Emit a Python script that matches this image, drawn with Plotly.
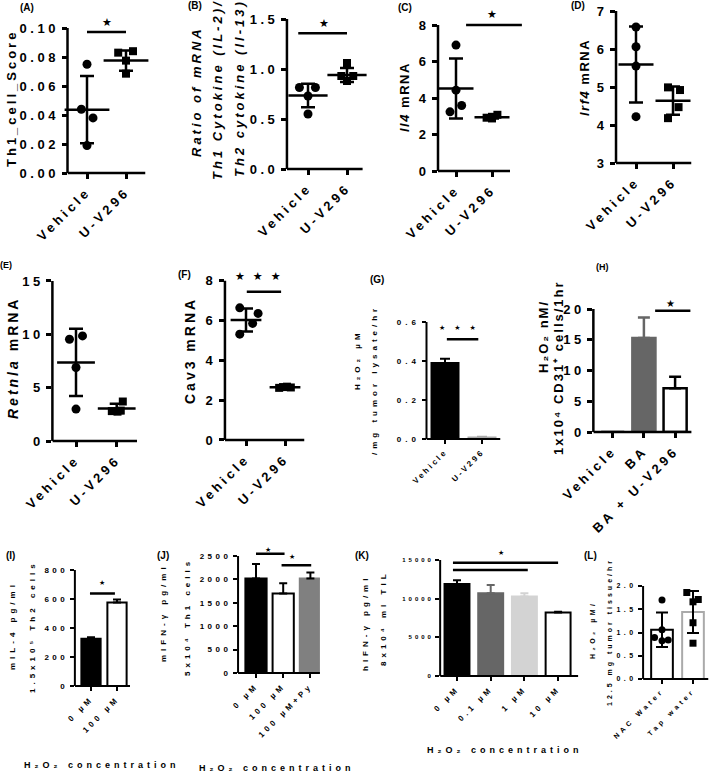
import plotly.graph_objects as go

W, H = 709, 783
FONT = "Liberation Sans"

# ---------------- data ----------------
two_cats = ["Vehicle", "U-V296"]

A_vehicle = [0.075, 0.044, 0.038, 0.019]
A_uv296 = [0.083, 0.084, 0.0775, 0.0685]
A_mean = [0.0437, 0.0775]
A_sd = [0.0232, 0.0069]
A_yticks = [0, 0.02, 0.04, 0.06, 0.08, 0.10]

B_vehicle = [0.815, 0.815, 0.73, 0.55]
B_uv296 = [1.06, 0.93, 0.93, 0.88]
B_mean = [0.735, 0.94]
B_sd = [0.117, 0.07]
B_yticks = [0, 0.5, 1.0, 1.5]

C_vehicle = [6.9, 4.43, 3.24, 3.59]
C_uv296 = [2.92, 2.97, 3.08, 2.88]
C_mean = [4.52, 2.95]
C_sd = [1.65, 0.08]
C_yticks = [0, 2, 4, 6, 8]

D_vehicle = [6.58, 6.06, 5.55, 4.22]
D_uv296 = [4.99, 4.92, 4.47, 4.18]
D_mean = [5.59, 4.64]
D_sd = [1.0, 0.37]
D_yticks = [3, 4, 5, 6, 7]

E_vehicle = [9.54, 9.85, 6.89, 2.99]
E_uv296 = [3.7, 2.8, 2.75, 2.85]
E_mean = [7.36, 3.05]
E_sd = [3.15, 0.43]
E_yticks = [0, 5, 10, 15]

F_vehicle = [6.64, 6.36, 5.86, 5.32]
F_uv296 = [2.62, 2.66, 2.68, 2.64]
F_mean = [6.03, 2.65]
F_sd = [0.58, 0.05]
F_yticks = [0, 2, 4, 6, 8]

G_mean = [0.39, 0.008]
G_sd = [0.022, 0.003]
G_yticks = [0, 0.2, 0.4, 0.6]

H_cats = ["Vehicle", "BA", "BA + U-V296"]
H_mean = [0, 15.3, 7.1]
H_sd = [0, 3.3, 1.9]
H_yticks = [0, 5, 10, 15, 20]

I_cats = ["0 µM", "100 µM"]
I_mean = [325, 575]
I_sd = [12, 22]
I_yticks = [0, 200, 400, 600, 800]

J_cats = ["0 µM", "100 µM", "100 µM+Py"]
J_mean = [2020, 1700, 2020]
J_sd = [310, 220, 125]
J_yticks = [0, 500, 1000, 1500, 2000, 2500]

K_cats = ["0 µM", "0.1 µM", "1 µM", "10 µM"]
K_mean = [11900, 10700, 10300, 8200]
K_sd = [500, 1080, 420, 120]
K_yticks = [0, 5000, 10000, 15000]

L_cats = ["NAC Water", "Tap water"]
L_nac = [1.70, 1.06, 0.89, 0.82, 0.84]
L_tap = [1.86, 1.71, 1.66, 1.21, 0.77]
L_mean = [1.06, 1.44]
L_sd = [0.37, 0.45]
L_yticks = [0, 0.5, 1.0, 1.5, 2.0]

# ---------------- helpers ----------------
def ls(t, sp):
    return f"<span style='letter-spacing:{sp}px'>{t}</span>"

def sfx(i):
    return "" if i == 1 else str(i)

fig = go.Figure()
shapes = []
annotations = []
layout_axes = {}


def setup(i, cats, yticks, fmt, P):
    s = sfx(i)
    c0, sp = P["c0"], P["sp"]
    xr, yr = P["xr"], P["yr"]
    xl = c0 + xr[0] * sp
    xrgt = c0 + xr[1] * sp
    ybot = P["y0"]
    ytop = P["y0"] - (yr[1] - yr[0]) * P["u"]
    tf = dict(family=FONT, size=P["tfs"], color="black", weight=700)
    xtf = dict(family=FONT, size=P.get("xtfs", P["tfs"]), color="black", weight=700)
    layout_axes["xaxis" + s] = dict(
        domain=[xl / W, xrgt / W], range=list(xr), anchor="y" + s,
        showgrid=False, zeroline=False, showline=False, automargin=False,
        tickvals=list(range(len(cats))),
        ticktext=[ls(c, P["xls"]) for c in cats],
        ticks="outside", ticklen=P["tl"], tickwidth=P["lw"], tickcolor="black",
        tickangle=-45, tickfont=xtf, fixedrange=True)
    layout_axes["yaxis" + s] = dict(
        domain=[1 - ybot / H, 1 - ytop / H], range=list(yr), anchor="x" + s,
        showgrid=False, zeroline=False, showline=False, automargin=False,
        tickvals=yticks, ticktext=[ls(format(v, fmt), P["yls"]) for v in yticks],
        ticks="outside", ticklen=P["tl"], tickwidth=P["lw"], tickcolor="black",
        tickfont=tf, fixedrange=True)
    shapes.append(dict(type="line", xref="x" + s + " domain", yref="y" + s,
                       x0=0, x1=0, y0=yr[0], y1=P["ytop"],
                       line=dict(color="black", width=P["lw"])))
    shapes.append(dict(type="line", xref="x" + s, yref="y" + s + " domain",
                       x0=xr[0], x1=P["xend"], y0=0, y1=0,
                       line=dict(color="black", width=P["lw"])))


def dots(i, k, vals, dx, symbol, size=8):
    s = sfx(i)
    fig.add_trace(go.Scatter(
        x=[k + d for d in dx], y=vals, mode="markers",
        marker=dict(symbol=symbol, size=size, color="black"),
        xaxis="x" + s, yaxis="y" + s, hoverinfo="skip", cliponaxis=False))


def meansd(i, means, sds, mw, cap=7, th=2.5):
    s = sfx(i)
    fig.add_trace(go.Scatter(
        x=list(range(len(means))), y=means, mode="markers",
        marker=dict(symbol="line-ew", size=mw, color="black",
                    line=dict(color="black", width=th)),
        error_y=dict(type="data", array=sds, visible=True, thickness=th,
                     width=cap, color="black"),
        xaxis="x" + s, yaxis="y" + s, hoverinfo="skip", cliponaxis=False))


def bars(i, means, sds, fills, outlines, errc, width, lw=2, cap=5, sym=False):
    s = sfx(i)
    for k, (m, e) in enumerate(zip(means, sds)):
        err = dict(type="data", array=[e], visible=e > 0, thickness=lw,
                   width=cap, color=errc[k])
        if not sym:
            err.update(symmetric=False, arrayminus=[0])
        fig.add_trace(go.Bar(
            x=[k], y=[m], width=width,
            marker=dict(color=fills[k], line=dict(color=outlines[k], width=lw)),
            error_y=err, xaxis="x" + s, yaxis="y" + s, hoverinfo="skip"))


def sig(i, x0, x1, y, lw=2.5):
    s = sfx(i)
    shapes.append(dict(type="line", xref="x" + s, yref="y" + s,
                       x0=x0, x1=x1, y0=y, y1=y,
                       line=dict(color="black", width=lw)))


def star(i, x, y, text, size, sp=0):
    s = sfx(i)
    annotations.append(dict(xref="x" + s, yref="y" + s, x=x, y=y,
                            text=ls(text, sp) if sp else text,
                            showarrow=False, xanchor="center", yanchor="middle",
                            font=dict(family="DejaVu Sans", size=size, color="black")))


def txt(xpx, ypx, text, size, angle=0, sp=0, weight=700):
    annotations.append(dict(xref="paper", yref="paper", x=xpx / W, y=1 - ypx / H,
                            text=ls(text, sp) if sp else text, showarrow=False,
                            textangle=angle, xanchor="center", yanchor="middle",
                            font=dict(family=FONT, size=size, color="black",
                                      weight=weight)))

BIG = dict(tfs=13, xls=3.5, yls=3.5, tl=5, lw=2.5)
SMALL = dict(tfs=8, xls=3.5, yls=3.5, tl=4, lw=2)

# ---------------- (A) ----------------
setup(1, two_cats, A_yticks, ".2f",
      dict(BIG, c0=87, sp=39, xr=(-0.5, 1.5), xend=1.5, y0=173, u=1450,
           yr=(0, 0.108), ytop=0.10))
dots(1, 0, A_vehicle, [0, -0.145, 0.154, 0], "circle", 9)
dots(1, 1, A_uv296, [-0.2, 0.18, 0, 0], "square", 8)
meansd(1, A_mean, A_sd, 32)
sig(1, 0, 1, 0.0972)
star(1, 0.5, 0.1039, "★", 11)

# ---------------- (B) ----------------
setup(2, two_cats, B_yticks, ".1f",
      dict(BIG, c0=308, sp=39, xr=(-0.54, 1.5), xend=1.4, y0=169, u=100,
           yr=(0, 1.5), ytop=1.5))
dots(2, 0, B_vehicle, [-0.22, 0.19, 0, 0], "circle", 9)
dots(2, 1, B_uv296, [0, -0.145, 0.16, 0], "square", 8)
meansd(2, B_mean, B_sd, 28)
sig(2, -0.25, 1.0, 1.357)
star(2, 0.4, 1.46, "★", 11)

# ---------------- (C) ----------------
setup(3, two_cats, C_yticks, "d",
      dict(BIG, c0=456, sp=36, xr=(-0.5, 1.9), xend=1.5, y0=171, u=18.25,
           yr=(0, 8.8), ytop=8))
dots(3, 0, C_vehicle, [0, 0, -0.167, 0.157], "circle", 9)
dots(3, 1, C_uv296, [-0.15, 0, 0.15, 0], "square", 8)
meansd(3, C_mean, C_sd, 25)
sig(3, 0.28, 1.83, 8.0)
star(3, 1.0, 8.55, "★", 11)

# ---------------- (D) ----------------
setup(4, two_cats, D_yticks, "d",
      dict(BIG, c0=636, sp=37, xr=(-0.54, 1.5), xend=1.5, y0=163, u=38,
           yr=(3, 7), ytop=7))
dots(4, 0, D_vehicle, [0, 0, 0, 0], "circle", 9)
dots(4, 1, D_uv296, [-0.135, 0.19, 0.15, -0.135], "square", 8)
meansd(4, D_mean, D_sd, 25)

# ---------------- (E) ----------------
setup(5, two_cats, E_yticks, "d",
      dict(BIG, c0=76, sp=40.7, xr=(-0.58, 1.5), xend=1.5, y0=441, u=10.67,
           yr=(0, 15), ytop=15))
dots(5, 0, E_vehicle, [-0.16, 0.16, 0, 0], "circle", 9)
dots(5, 1, E_uv296, [0.15, -0.12, 0.02, 0.1], "square", 8)
meansd(5, E_mean, E_sd, 27)

# ---------------- (F) ----------------
setup(6, two_cats, F_yticks, "d",
      dict(BIG, c0=246, sp=39, xr=(-0.54, 1.5), xend=1.5, y0=440, u=19.9,
           yr=(0, 8.45), ytop=8))
dots(6, 0, F_vehicle, [-0.16, 0.31, 0.17, -0.16], "circle", 9)
dots(6, 1, F_uv296, [-0.15, -0.05, 0.05, 0.15], "square", 8)
meansd(6, F_mean, F_sd, 22)
sig(6, 0.02, 0.9, 7.45)
star(6, 0.42, 8.23, "★★★", 11, 8)

# ---------------- (G) ----------------
setup(7, two_cats, G_yticks, ".1f",
      dict(SMALL, xls=2.5, yls=4, c0=445, sp=37, xr=(-0.5, 1.5), xend=1.5,
           y0=439, u=195, yr=(0, 0.6), ytop=0.6))
bars(7, G_mean, G_sd, ["black", "white"], ["black", "#aaaaaa"],
     ["black", "#aaaaaa"], 0.73)
sig(7, 0.05, 0.9, 0.511)
star(7, 0.45, 0.569, "★★★", 7, 9)

# ---------------- (H) ----------------
setup(8, H_cats, H_yticks, "d",
      dict(BIG, c0=612.7, sp=31.2, xr=(-0.62, 2.53), xend=2.53, y0=432,
           u=6.15, yr=(0, 21.5), ytop=20))
bars(8, H_mean, H_sd, ["black", "#666666", "white"],
     ["black", "#666666", "black"], ["black", "#666666", "black"], 0.74,
     lw=2.5, cap=6)
sig(8, 1.36, 2.49, 19.73)
star(8, 1.84, 20.92, "★", 10)

# ---------------- (I) ----------------
setup(9, I_cats, I_yticks, "d",
      dict(SMALL, c0=91, sp=26, xr=(-0.62, 1.5), xend=1.5, y0=686, u=0.145,
           yr=(0, 800), ytop=800))
bars(9, I_mean, I_sd, ["black", "white"], ["black", "black"],
     ["black", "black"], 0.74, cap=4)
sig(9, -0.04, 0.92, 638)
star(9, 0.41, 707, "★", 7)

# ---------------- (J) ----------------
setup(10, J_cats, J_yticks, "d",
      dict(SMALL, c0=256, sp=27.2, xr=(-0.66, 2.35), xend=2.35, y0=673,
           u=0.0468, yr=(0, 2700), ytop=2500))
bars(10, J_mean, J_sd, ["black", "white", "#808080"],
     ["black", "black", "#808080"], ["black", "black", "black"], 0.78, cap=4)
sig(10, 0, 1.05, 2550)
sig(10, 0.94, 2.03, 2302)
star(10, 0.45, 2635, "★", 7)
star(10, 1.33, 2479, "★", 7)

# ---------------- (K) ----------------
setup(11, K_cats, K_yticks, "d",
      dict(SMALL, tfs=6, xtfs=8, yls=3, c0=457, sp=33.7, xr=(-0.5, 3.6),
           xend=3.6, y0=676, u=0.00773, yr=(0, 16500), ytop=15000))
bars(11, K_mean, K_sd, ["black", "#666666", "#d3d3d3", "white"],
     ["black", "#666666", "#d3d3d3", "black"],
     ["black", "#666666", "#d3d3d3", "black"], 0.74, cap=4)
sig(11, -0.12, 3.0, 14656)
sig(11, -0.12, 2.1, 13705)
star(11, 1.32, 15953, "★", 7)

# ---------------- (L) ----------------
setup(12, L_cats, L_yticks, ".1f",
      dict(SMALL, tfs=7, xtfs=7, c0=662, sp=31, xr=(-0.61, 1.5), xend=1.5,
           y0=679, u=46.5, yr=(0, 2.0), ytop=2.0))
bars(12, L_mean, L_sd, ["white", "white"], ["black", "#aaaaaa"],
     ["black", "black"], 0.7, lw=2, cap=6, sym=True)
dots(12, 0, L_nac, [0, 0, -0.24, 0, 0.2], "circle", 7)
dots(12, 1, L_tap, [-0.2, 0.17, 0, 0, 0], "square", 7)

# ---------------- text ----------------
for lab, x, y, sz in [("(A)", 27, 7, 10), ("(B)", 195, 5, 10), ("(C)", 405, 7, 10),
                      ("(D)", 578, 5, 10), ("(E)", 6, 265, 9), ("(F)", 184, 275, 10),
                      ("(G)", 377, 279, 10), ("(H)", 602, 267, 9), ("(I)", 10, 555, 10),
                      ("(J)", 163, 555, 10), ("(K)", 362, 555, 10), ("(L)", 590, 555, 10)]:
    txt(x, y, lab, sz)

H2O2 = "H₂O₂"
txt(12, 99, "Th1_cell_Score", 13, -90, 3)
txt(197, 92, "<i>Ratio of mRNA</i>", 13, -90, 3)
txt(218, 90, "<i>Th1 Cytokine (IL-2)/</i>", 13, -90, 3)
txt(240, 88, "<i>Th2 cytokine (Il-13)</i>", 13, -90, 3)
txt(405, 97, "<i>Il4</i> mRNA", 13, -90, 1.5)
txt(585, 78, "<i>Irf4</i> mRNA", 13, -90, 1.5)
txt(13, 358, "<i>Retnla</i> mRNA", 14, -90, 3)
txt(190, 351, "Cav3 mRNA", 14, -90, 3)
txt(357, 360, H2O2 + " µM", 8, -90, 4)
txt(375, 380, "/mg tumor lysate/hr", 8, -90, 4)
txt(543, 337, H2O2 + " nM/", 13, -90, 2)
txt(558, 368, "1x10⁴ CD31⁺ cells/1hr", 13, -90, 2)
txt(12, 626, "mIL-4 pg/ml", 8, -90, 4)
txt(32, 627, "1.5x10⁵ Th2 cells", 8, -90, 4)
txt(163, 613, "mIFN-γ pg/ml", 8, -90, 4)
txt(187, 617, "5x10⁴ Th1 cells", 8, -90, 4)
txt(365, 623, "hIFN-γ pg/ml", 8, -90, 4)
txt(383, 618, "8x10⁴ ml TIL", 8, -90, 4)
txt(593, 630, H2O2 + " µM/", 7, -90, 3.5)
txt(610, 632, "12.5 mg tumor tissue/hr", 7, -90, 3)
for cx, cy in [(102, 765), (277, 768), (505, 750)]:
    txt(cx, cy, H2O2 + " concentration", 9, 0, 4)

fig.update_layout(
    width=W, height=H,
    margin=dict(l=0, r=0, t=0, b=0, pad=0, autoexpand=False),
    paper_bgcolor="white", plot_bgcolor="white", showlegend=False,
    shapes=shapes, annotations=annotations, barmode="overlay",
    **layout_axes)

fig.write_html("out.html", config={"displayModeBar": False},
               post_script="document.body.style.margin='0';"
                           "document.body.style.overflow='hidden';")
